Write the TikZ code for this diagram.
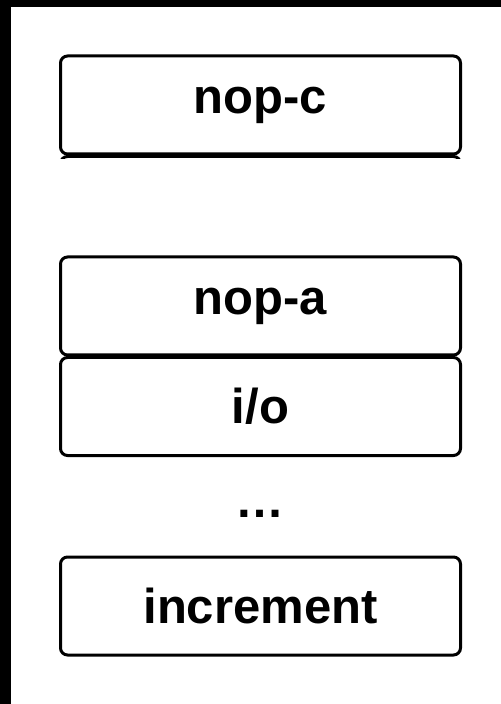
\documentclass[tikz,border=0pt]{standalone}
\usepackage{fontspec}
\setmainfont{Liberation Sans}
\begin{document}
\begin{tikzpicture}[x=0.5pt,y=-0.5pt,
  block/.style={draw=black, line width=1.5pt, rounded corners=3.5pt,
    minimum width=200pt, minimum height=49pt, inner sep=0pt,
    font=\fontsize{24.5}{28}\selectfont\bfseries},
  gap/.style={font=\fontsize{24.5}{28}\selectfont\bfseries, inner sep=0pt}]
  \useasboundingbox (0,0) rectangle (501,704);
  \fill[white] (0,0) rectangle (501,704);
  % dark frame strips along the left and top edges
  \fill[black] (0,0) rectangle (11,704);
  \fill[black] (0,0) rectangle (501,7);

  \node[block] (nopc) at (260.5,105) {nop-c};
  % top edge of the following block, cut off just below nop-c
  \begin{scope}
    \clip (40,155) rectangle (480,158.5);
    \draw[line width=1.5pt, rounded corners=3.5pt] (60.5,250) rectangle (460.5,156.5);
  \end{scope}

  \node[block] (nopa) at (260.5,306) {nop-a};
  \node[block] (io) at (260.5,406.5) {i/o};
  \node[gap] (dots) at (260,514) {…};
  \node[block] (incr) at (260.5,606) {increment};
\end{tikzpicture}
\end{document}
